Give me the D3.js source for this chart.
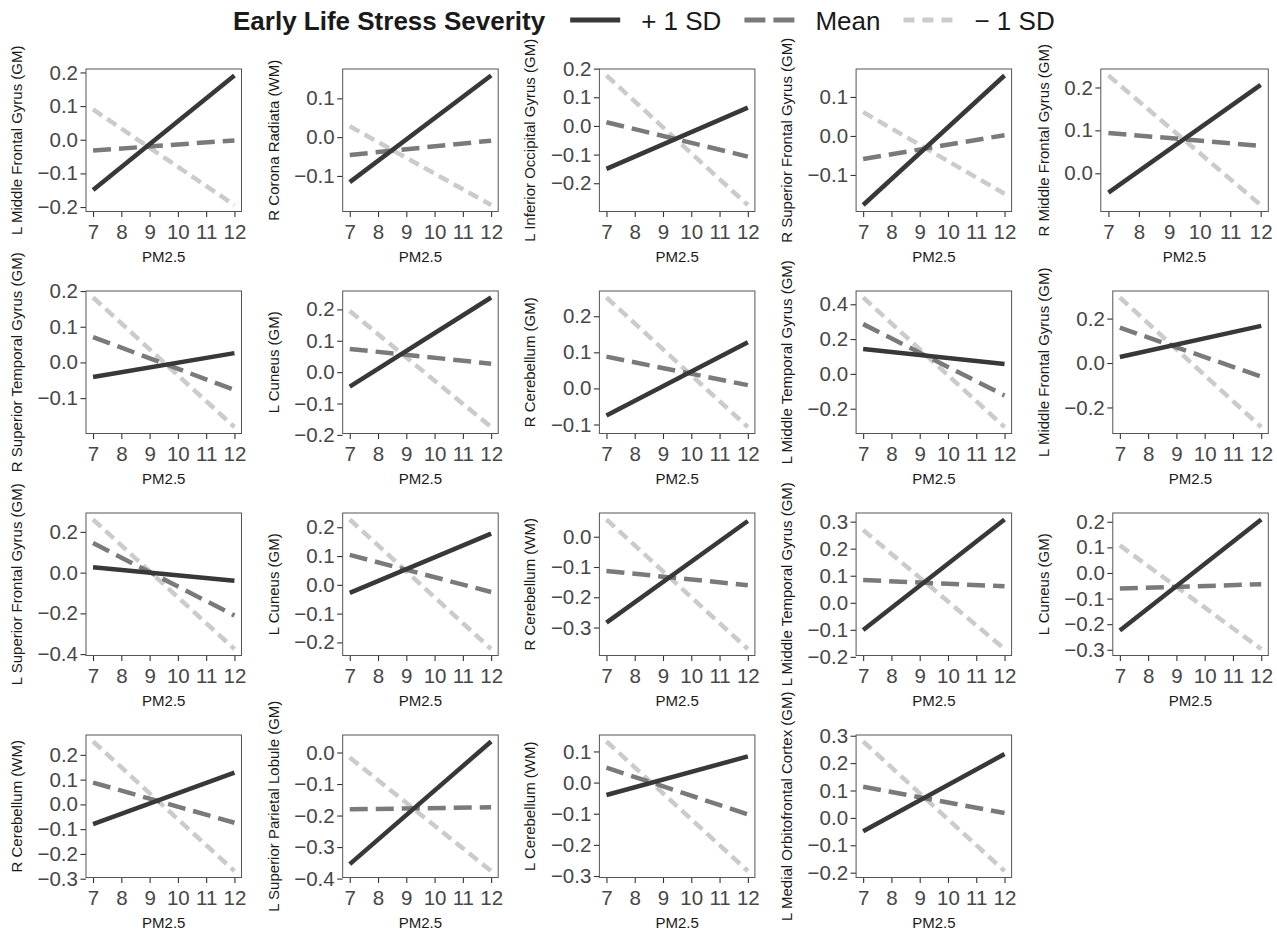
<!DOCTYPE html>
<html><head><meta charset="utf-8">
<script src="https://cdn.jsdelivr.net/npm/d3@7"></script>
<style>body{margin:0;background:#fff}svg{display:block}</style>
</head><body>
<svg id="chart" width="1277" height="930"></svg>
<script>
// ---------- data ----------
const legendTitle = "Early Life Stress Severity";
const seriesNames = ["+ 1 SD", "Mean", "\u2212 1 SD"];
const xTitle = "PM2.5";
const xValues = [7, 12];
const xTicks = [7, 8, 9, 10, 11, 12];
const regions = [
  "L Middle Frontal Gyrus (GM)", "R Corona Radiata (WM)", "L Inferior Occipital Gyrus (GM)", "R Superior Frontal Gyrus (GM)", "R Middle Frontal Gyrus (GM)",
  "R Superior Temporal Gyrus (GM)", "L Cuneus (GM)", "R Cerebellum (GM)", "L Middle Temporal Gyrus (GM)", "L Middle Frontal Gyrus (GM)",
  "L Superior Frontal Gyrus (GM)", "L Cuneus (GM)", "R Cerebellum (WM)", "L Middle Temporal Gyrus (GM)", "L Cuneus (GM)",
  "R Cerebellum (WM)", "L Superior Parietal Lobule (GM)", "L Cerebellum (WM)", "L Medial Orbitofrontal Cortex (GM)"
];
// values at PM2.5 = 7 and 12
const plusSD = [
  [-0.149, 0.191], [-0.116, 0.159], [-0.150, 0.064], [-0.177, 0.155], [-0.045, 0.206],
  [-0.041, 0.026], [-0.046, 0.238], [-0.075, 0.128], [0.143, 0.057], [0.027, 0.167],
  [0.026, -0.040], [-0.028, 0.178], [-0.284, 0.052], [-0.101, 0.308], [-0.225, 0.209],
  [-0.080, 0.128], [-0.354, 0.035], [-0.040, 0.084], [-0.049, 0.233]
];
const meanSD = [
  [-0.032, -0.002], [-0.046, -0.009], [0.013, -0.107], [-0.059, 0.002], [0.094, 0.064],
  [0.071, -0.077], [0.074, 0.027], [0.088, 0.009], [0.286, -0.124], [0.159, -0.061],
  [0.145, -0.210], [0.104, -0.025], [-0.113, -0.160], [0.084, 0.061], [-0.061, -0.044],
  [0.088, -0.074], [-0.180, -0.174], [0.048, -0.102], [0.114, 0.018]
];
const minusSD = [
  [0.090, -0.194], [0.028, -0.175], [0.176, -0.276], [0.061, -0.148], [0.228, -0.074],
  [0.182, -0.181], [0.195, -0.175], [0.252, -0.107], [0.439, -0.305], [0.295, -0.288],
  [0.261, -0.375], [0.227, -0.223], [0.057, -0.371], [0.269, -0.171], [0.108, -0.297],
  [0.254, -0.269], [-0.016, -0.376], [0.132, -0.284], [0.279, -0.194]
];
const yTicks = [
  [-0.2, -0.1, 0, 0.1, 0.2], [-0.1, 0, 0.1], [-0.2, -0.1, 0, 0.1, 0.2], [-0.1, 0, 0.1], [0, 0.1, 0.2],
  [-0.1, 0, 0.1, 0.2], [-0.2, -0.1, 0, 0.1, 0.2], [-0.1, 0, 0.1, 0.2], [-0.2, 0, 0.2, 0.4], [-0.2, 0, 0.2],
  [-0.4, -0.2, 0, 0.2], [-0.2, -0.1, 0, 0.1, 0.2], [-0.3, -0.2, -0.1, 0], [-0.2, -0.1, 0, 0.1, 0.2, 0.3], [-0.3, -0.2, -0.1, 0, 0.1, 0.2],
  [-0.3, -0.2, -0.1, 0, 0.1, 0.2], [-0.4, -0.3, -0.2, -0.1, 0], [-0.3, -0.2, -0.1, 0, 0.1], [-0.2, -0.1, 0, 0.1, 0.2, 0.3]
];

// ---------- style / layout ----------
const font = "'Liberation Sans', Arial, Helvetica, sans-serif";
const styles = [
  {color: "#383838", dash: null, legendDash: null},
  {color: "#7a7a7a", dash: "18,8", legendDash: "21,8"},
  {color: "#cbcbcb", dash: "11,6", legendDash: "11,8"}
];
const pitchX = 256.7, pitchY = 222, originX = -6.5, originY = 42;
const tickFont = 20.5, titleFont = 15;
const fmt = d3.format(".1f");
const xfmt = d3.format("d");

const svg = d3.select("#chart");
const meas = svg.append("text").attr("font-family", font).style("visibility", "hidden");
function tw(s, size, weight) {
  meas.attr("font-size", size).attr("font-weight", weight || "normal").text(s);
  return meas.node().getComputedTextLength();
}

const seriesData = [plusSD, meanSD, minusSD];

regions.forEach((name, i) => {
  const r = Math.floor(i / 5), c = i % 5;
  const cellL = originX + c * pitchX, cellT = originY + r * pitchY;
  const ticks = yTicks[i];
  const maxW = d3.max(ticks, t => tw(fmt(t), tickFont));
  const boxL = cellL + 52 + maxW, boxR = cellL + 248;
  const boxT = cellT + 27, boxB = boxT + 142.5;
  const vals = seriesData.map(s => s[i]).flat();
  const [mn, mx] = d3.extent(vals);
  const pad = (mx - mn) * 0.05;
  const y = d3.scaleLinear().domain([mn - pad, mx + pad]).range([boxB, boxT]);
  const xpad = (xValues[1] - xValues[0]) * 0.05;
  const x = d3.scaleLinear().domain([xValues[0] - xpad, xValues[1] + xpad]).range([boxL, boxR]);

  const g = svg.append("g");

  // y axis
  const ya = g.append("g").attr("transform", `translate(${boxL},0)`)
    .call(d3.axisLeft(y).tickValues(ticks).tickSize(5.5).tickPadding(2.5).tickFormat(fmt));
  ya.select(".domain").remove();
  ya.selectAll("line").attr("stroke", "#333").attr("stroke-width", 1.1);
  ya.selectAll("text").attr("font-family", font).attr("font-size", tickFont).attr("fill", "#474747");

  // x axis
  const xa = g.append("g").attr("transform", `translate(0,${boxB})`)
    .call(d3.axisBottom(x).tickValues(xTicks).tickSize(5.5).tickPadding(7.5).tickFormat(xfmt));
  xa.select(".domain").remove();
  xa.selectAll("line").attr("stroke", "#333").attr("stroke-width", 1.1);
  xa.selectAll("text").attr("font-family", font).attr("font-size", tickFont).attr("fill", "#474747");

  // lines (draw -1 SD first, then Mean, then +1 SD on top)
  const line = d3.line().x(d => x(d[0])).y(d => y(d[1]));
  [2, 1, 0].forEach(k => {
    const pts = xValues.map((xv, j) => [xv, seriesData[k][i][j]]);
    g.append("path").attr("d", line(pts))
      .attr("fill", "none").attr("stroke", styles[k].color)
      .attr("stroke-width", 4.5).attr("stroke-linecap", "butt")
      .attr("stroke-dasharray", styles[k].dash);
  });

  // panel border
  g.append("rect").attr("x", boxL).attr("y", boxT).attr("width", boxR - boxL).attr("height", boxB - boxT)
    .attr("fill", "none").attr("stroke", "#555").attr("stroke-width", 1);

  // titles
  const labelLeft = boxL - 5.5 - 2.5 - maxW;
  g.append("text").attr("transform", `translate(${labelLeft - 21},${(boxT + boxB) / 2}) rotate(-90)`)
    .attr("text-anchor", "middle").attr("dominant-baseline", "central")
    .attr("font-family", font).attr("font-size", titleFont).attr("fill", "#1a1a1a").text(name);
  g.append("text").attr("x", (boxL + boxR) / 2).attr("y", boxB + 45)
    .attr("text-anchor", "middle").attr("dominant-baseline", "central")
    .attr("font-family", font).attr("font-size", titleFont).attr("fill", "#1a1a1a").text(xTitle);
});

// ---------- legend ----------
const lg = svg.append("g");
const legY = 20, baseY = 30, legFont = 26;
let cx = 233;
lg.append("text").attr("x", cx).attr("y", baseY).attr("font-family", font).attr("font-size", legFont)
  .attr("font-weight", "bold").attr("fill", "#1a1a1a").text(legendTitle);
cx += tw(legendTitle, legFont, "bold") + 25;
seriesNames.forEach((s, k) => {
  lg.append("line").attr("x1", cx).attr("x2", cx + 50).attr("y1", legY).attr("y2", legY)
    .attr("stroke", styles[k].color).attr("stroke-width", 5).attr("stroke-dasharray", styles[k].legendDash);
  cx += 50 + 21;
  lg.append("text").attr("x", cx).attr("y", baseY).attr("font-family", font).attr("font-size", legFont)
    .attr("fill", "#1a1a1a").text(s);
  cx += tw(s, legFont) + 23;
});
meas.remove();
</script>
</body></html>
